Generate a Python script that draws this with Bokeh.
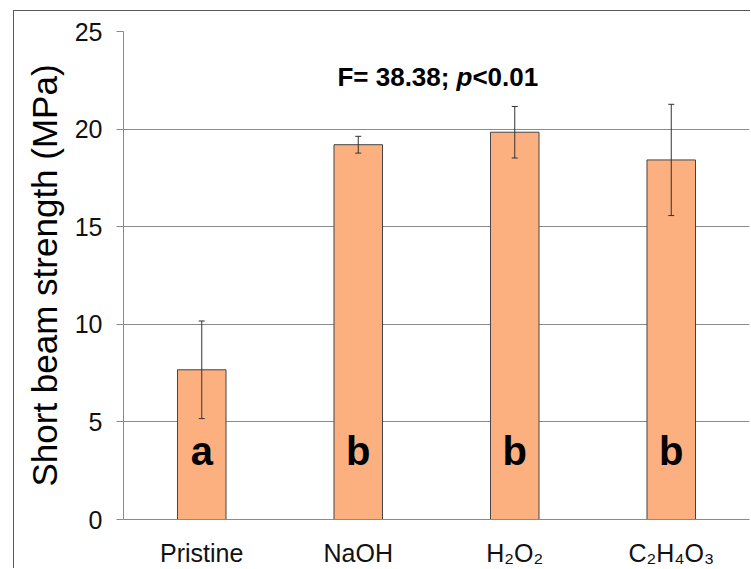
from bokeh.plotting import figure
from bokeh.models import ColumnDataSource, Whisker, TeeHead, Label, FactorRange, Range1d, FixedTicker, LabelSet
from bokeh.core.properties import value
from bokeh.embed import file_html
from bokeh.resources import INLINE

# ---- data ----
categories = ["Pristine", "NaOH", "H\u2082O\u2082", "C\u2082H\u2084O\u2083"]
strength = [7.67, 19.2, 19.84, 18.42]
sd = [2.5, 0.43, 1.32, 2.85]
groups = ["a", "b", "b", "b"]
group_y = [3.5, 3.5, 3.5, 3.5]
y_ticks = [0, 5, 10, 15, 20, 25]

src = ColumnDataSource(dict(
    cat=categories,
    val=strength,
    upper=[v + e for v, e in zip(strength, sd)],
    lower=[v - e for v, e in zip(strength, sd)],
    grp=groups,
    gy=group_y,
))

FONT = "Liberation Sans"
GRAY = "#8a8a8a"

p = figure(
    x_range=FactorRange(*categories, range_padding=0),
    y_range=Range1d(0, 25),
    width=737, height=558,
    output_backend="svg", toolbar_location=None,
    min_border_left=109, min_border_right=2,
    min_border_top=20, min_border_bottom=49,
    margin=(10, 0, 0, 13),
)
p.styles = {"border-left": "1px solid #5a5a5a", "border-top": "1px solid #5a5a5a"}
p.outline_line_color = None
p.background_fill_color = "white"
p.border_fill_color = "white"

p.vbar(x="cat", top="val", width=0.31, source=src,
       fill_color="#FDB07F", line_color="#444444", line_width=1)

w = Whisker(base="cat", upper="upper", lower="lower", source=src,
            line_color="#333333", line_width=1, level="overlay",
            upper_head=TeeHead(size=6, line_color="#333333", line_width=1),
            lower_head=TeeHead(size=6, line_color="#333333", line_width=1))
p.add_layout(w)

letters = LabelSet(x="cat", y="gy", text="grp", source=src,
                   text_align="center", text_baseline="middle",
                   text_font=value(FONT), text_font_size=value("40px"),
                   text_font_style="bold", text_color="#000000")
p.add_layout(letters)

# annotation "F= 38.38; p<0.01"
ann_x = 1.367
ann_y = 22.65
for txt, off, style in [("F= 38.38; ", 0, "bold"), ("p", 119, "bold italic"), ("<0.01", 135, "bold")]:
    p.add_layout(Label(x=ann_x, y=ann_y, x_offset=off, text=txt,
                       text_font=FONT, text_font_size="26px", text_font_style=style,
                       text_color="#000000", text_align="left", text_baseline="alphabetic"))

# grid
p.xgrid.grid_line_color = None
p.ygrid.grid_line_color = GRAY
p.ygrid.grid_line_width = 1

# y axis
p.yaxis.ticker = FixedTicker(ticks=y_ticks)
p.yaxis.axis_label = "Short beam strength (MPa)"
p.yaxis.axis_label_text_font = FONT
p.yaxis.axis_label_text_font_size = "35px"
p.yaxis.axis_label_text_font_style = "normal"
p.yaxis.axis_label_text_color = "#000000"
p.yaxis.axis_label_standoff = 8
p.yaxis.major_label_text_font = FONT
p.yaxis.major_label_text_font_size = "25px"
p.yaxis.major_label_text_color = "#111111"
p.yaxis.major_label_standoff = 14
p.yaxis.axis_line_color = GRAY
p.yaxis.major_tick_line_color = GRAY
p.yaxis.major_tick_out = 7
p.yaxis.major_tick_in = 0
p.yaxis.minor_tick_line_color = None

# x axis
p.xaxis.axis_line_color = GRAY
p.xaxis.major_tick_line_color = None
p.xaxis.minor_tick_line_color = None
p.xaxis.major_label_text_font = FONT
p.xaxis.major_label_text_font_size = "25px"
p.xaxis.major_label_text_color = "#111111"
p.xaxis.major_label_standoff = 13

open("out.html", "w").write(file_html(p, INLINE))
